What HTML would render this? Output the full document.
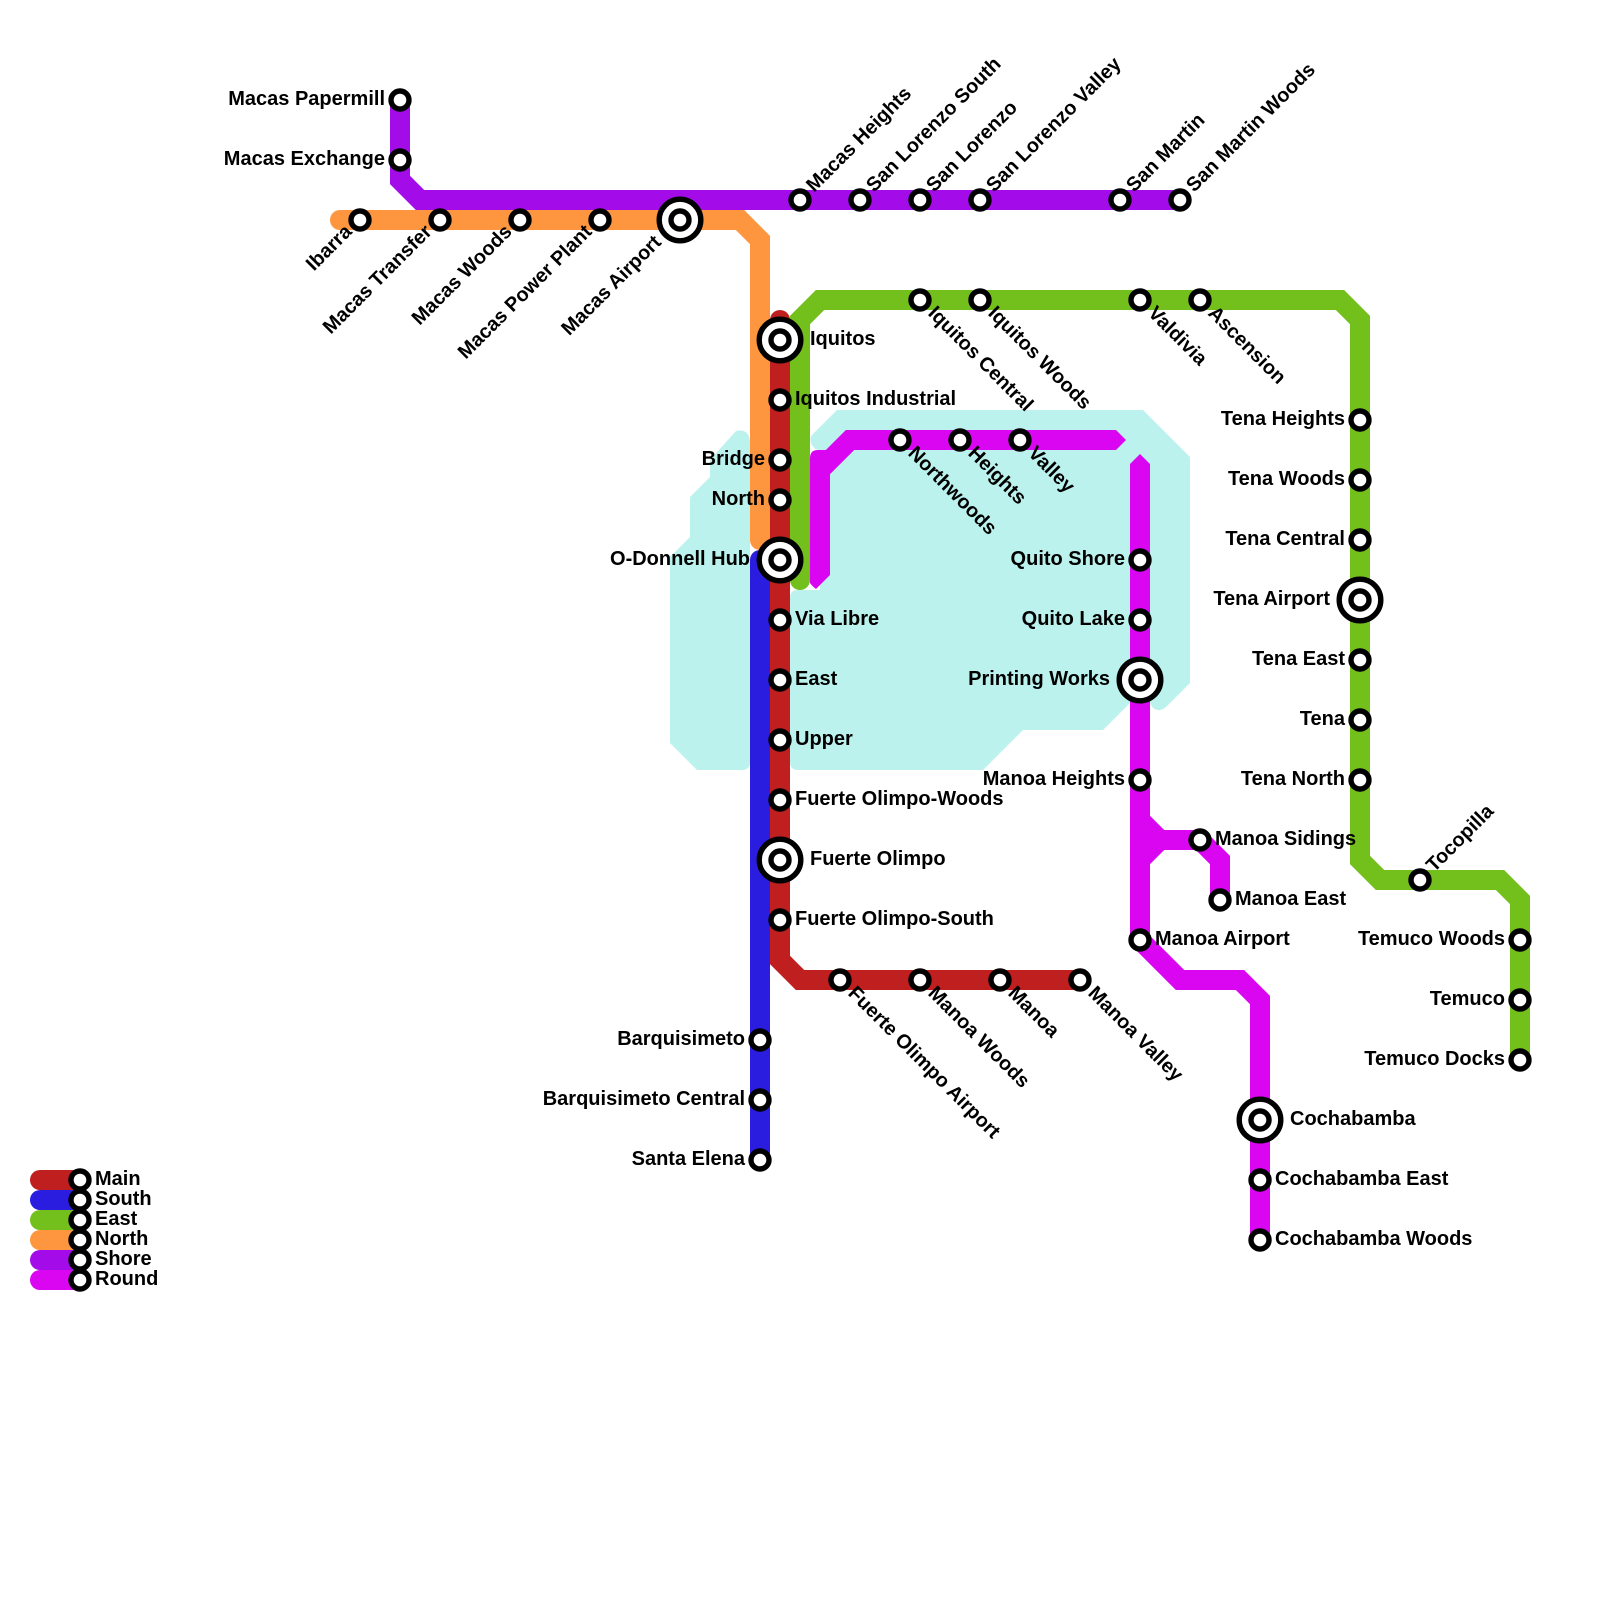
<!DOCTYPE html>
<html><head><meta charset="utf-8"><style>
html,body{margin:0;padding:0;background:#fff}
svg{display:block}
text{font-family:"Liberation Sans",sans-serif;font-weight:700;font-size:20px;fill:#000}
text[transform]{font-size:19.85px}
.e{text-anchor:end}
.l{fill:none;stroke-width:20;stroke-linejoin:miter;stroke-linecap:round}
.b{fill:none;stroke-width:20;stroke-linejoin:miter;stroke-linecap:butt}
.s{fill:#fff;stroke:#000;stroke-width:5.4}
</style></head><body>
<svg width="1600" height="1600" viewBox="0 0 1600 1600" xmlns="http://www.w3.org/2000/svg">
<!-- water -->
<path fill="#bcf2ee" d="M750,442 Q749,428 736,431 L710,460 V477 L690,497 V537 L670,557 V743 L697,770 H742 Q750,770 750,762 Z"/>
<path fill="#bcf2ee" d="M837,410 H1143 L1190,457 V683 L1167,706 Q1160,713 1153,708 L1150,703 H1130 L1103,730 H1023 L983,770 H798 Q790,770 790,762 V598 Q790,590 798,590 H820 V450 Q814,450 811,443 Q809,438 813,434 Z"/>
<!-- lines -->
<path class="l" stroke="#bf1f1f" d="M780,320 V960 L800,980 H1080"/>
<path class="l" stroke="#2a1de0" d="M760,560 V1160"/>
<path class="l" stroke="#73bf1c" d="M800,580 V320 L820,300 H1340 L1360,320 V860 L1380,880 H1500 L1520,900 V1060"/>
<path class="l" stroke="#fd963f" d="M340,220 H740 L760,240 V540"/>
<path class="l" stroke="#a30ce8" d="M400,100 V180 L420,200 H1180"/>
<!-- round -->
<path class="b" stroke="#da06f2" d="M820,575 V470 L850,440 H1116"/>
<path d="M810,470 V458 Q810,450 818,450 H826 L830,470 Z" fill="#da06f2"/>
<path d="M810,570 V583 Q812,586 816,589 L830,575 V570 Z" fill="#da06f2"/>
<polygon fill="#da06f2" points="1116,430 1126,440 1116,450"/>
<polygon fill="#da06f2" points="1130,464 1140,454 1150,464"/>
<path class="b" stroke="#da06f2" d="M1140,464 V940 L1180,980 H1240 L1260,1000 V1240"/>
<circle cx="1260" cy="1240" r="10" fill="#da06f2"/>
<path class="b" stroke="#da06f2" d="M1140,820 L1160,840 H1200 L1220,860 V900"/>
<path class="b" stroke="#da06f2" d="M1140,860 L1160,840"/>
<!-- legend -->
<path class="l" stroke="#bf1f1f" d="M40,1180 H80"/>
<path class="l" stroke="#2a1de0" d="M40,1200 H80"/>
<path class="l" stroke="#73bf1c" d="M40,1220 H80"/>
<path class="l" stroke="#fd963f" d="M40,1240 H80"/>
<path class="l" stroke="#a30ce8" d="M40,1260 H80"/>
<path class="l" stroke="#da06f2" d="M40,1280 H80"/>
<g class="s">
<circle cx="80" cy="1180" r="9"/><circle cx="80" cy="1200" r="9"/><circle cx="80" cy="1220" r="9"/><circle cx="80" cy="1240" r="9"/><circle cx="80" cy="1260" r="9"/><circle cx="80" cy="1280" r="9"/>
<circle cx="400" cy="100" r="9"/><circle cx="400" cy="160" r="9"/>
<circle cx="360" cy="220" r="9"/><circle cx="440" cy="220" r="9"/><circle cx="520" cy="220" r="9"/><circle cx="600" cy="220" r="9"/>
<circle cx="800" cy="200" r="9"/><circle cx="860" cy="200" r="9"/><circle cx="920" cy="200" r="9"/><circle cx="980" cy="200" r="9"/><circle cx="1120" cy="200" r="9"/><circle cx="1180" cy="200" r="9"/>
<circle cx="920" cy="300" r="9"/><circle cx="980" cy="300" r="9"/><circle cx="1140" cy="300" r="9"/><circle cx="1200" cy="300" r="9"/>
<circle cx="1360" cy="420" r="9"/><circle cx="1360" cy="480" r="9"/><circle cx="1360" cy="540" r="9"/><circle cx="1360" cy="660" r="9"/><circle cx="1360" cy="720" r="9"/><circle cx="1360" cy="780" r="9"/>
<circle cx="1420" cy="880" r="9"/><circle cx="1520" cy="940" r="9"/><circle cx="1520" cy="1000" r="9"/><circle cx="1520" cy="1060" r="9"/>
<circle cx="780" cy="400" r="9"/><circle cx="780" cy="460" r="9"/><circle cx="780" cy="500" r="9"/><circle cx="780" cy="620" r="9"/><circle cx="780" cy="680" r="9"/><circle cx="780" cy="740" r="9"/><circle cx="780" cy="800" r="9"/><circle cx="780" cy="920" r="9"/>
<circle cx="840" cy="980" r="9"/><circle cx="920" cy="980" r="9"/><circle cx="1000" cy="980" r="9"/><circle cx="1080" cy="980" r="9"/>
<circle cx="760" cy="1040" r="9"/><circle cx="760" cy="1100" r="9"/><circle cx="760" cy="1160" r="9"/>
<circle cx="900" cy="440" r="9"/><circle cx="960" cy="440" r="9"/><circle cx="1020" cy="440" r="9"/>
<circle cx="1140" cy="560" r="9"/><circle cx="1140" cy="620" r="9"/><circle cx="1140" cy="780" r="9"/><circle cx="1140" cy="940" r="9"/>
<circle cx="1200" cy="840" r="9"/><circle cx="1220" cy="900" r="9"/><circle cx="1260" cy="1180" r="9"/><circle cx="1260" cy="1240" r="9"/>
<circle cx="680" cy="220" r="20.8"/><circle cx="680" cy="220" r="9"/>
<circle cx="780" cy="340" r="20.8"/><circle cx="780" cy="340" r="9"/>
<circle cx="780" cy="560" r="20.8"/><circle cx="780" cy="560" r="9"/>
<circle cx="780" cy="860" r="20.8"/><circle cx="780" cy="860" r="9"/>
<circle cx="1140" cy="680" r="20.8"/><circle cx="1140" cy="680" r="9"/>
<circle cx="1260" cy="1120" r="20.8"/><circle cx="1260" cy="1120" r="9"/>
<circle cx="1360" cy="600" r="20.8"/><circle cx="1360" cy="600" r="9"/>
</g>
<!-- legend text -->
<text x="95" y="1185">Main</text><text x="95" y="1205">South</text><text x="95" y="1225">East</text><text x="95" y="1245">North</text><text x="95" y="1265">Shore</text><text x="95" y="1285">Round</text>
<!-- left labels -->
<text class="e" x="385" y="105">Macas Papermill</text>
<text class="e" x="385" y="165">Macas Exchange</text>
<text class="e" x="765" y="465">Bridge</text>
<text class="e" x="765" y="505">North</text>
<text class="e" x="750" y="565">O-Donnell Hub</text>
<text class="e" x="745" y="1045">Barquisimeto</text>
<text class="e" x="745" y="1105">Barquisimeto Central</text>
<text class="e" x="745" y="1165">Santa Elena</text>
<text class="e" x="1125" y="565">Quito Shore</text>
<text class="e" x="1125" y="625">Quito Lake</text>
<text class="e" x="1110" y="685">Printing Works</text>
<text class="e" x="1125" y="785">Manoa Heights</text>
<text class="e" x="1345" y="425">Tena Heights</text>
<text class="e" x="1345" y="485">Tena Woods</text>
<text class="e" x="1345" y="545">Tena Central</text>
<text class="e" x="1330" y="605">Tena Airport</text>
<text class="e" x="1345" y="665">Tena East</text>
<text class="e" x="1345" y="725">Tena</text>
<text class="e" x="1345" y="785">Tena North</text>
<text class="e" x="1505" y="945">Temuco Woods</text>
<text class="e" x="1505" y="1005">Temuco</text>
<text class="e" x="1505" y="1065">Temuco Docks</text>
<!-- right labels -->
<text x="810" y="345">Iquitos</text>
<text x="795" y="405">Iquitos Industrial</text>
<text x="795" y="625">Via Libre</text>
<text x="795" y="685">East</text>
<text x="795" y="745">Upper</text>
<text x="795" y="805">Fuerte Olimpo-Woods</text>
<text x="810" y="865">Fuerte Olimpo</text>
<text x="795" y="925">Fuerte Olimpo-South</text>
<text x="1215" y="845">Manoa Sidings</text>
<text x="1235" y="905">Manoa East</text>
<text x="1155" y="945">Manoa Airport</text>
<text x="1290" y="1125">Cochabamba</text>
<text x="1275" y="1185">Cochabamba East</text>
<text x="1275" y="1245">Cochabamba Woods</text>
<!-- rotated up-right -->
<text transform="translate(800 200) rotate(-45)" x="15" y="5">Macas Heights</text>
<text transform="translate(860 200) rotate(-45)" x="15" y="5">San Lorenzo South</text>
<text transform="translate(920 200) rotate(-45)" x="15" y="5">San Lorenzo</text>
<text transform="translate(980 200) rotate(-45)" x="15" y="5">San Lorenzo Valley</text>
<text transform="translate(1120 200) rotate(-45)" x="15" y="5">San Martin</text>
<text transform="translate(1180 200) rotate(-45)" x="15" y="5">San Martin Woods</text>
<text transform="translate(1420 880) rotate(-45)" x="15" y="5">Tocopilla</text>
<!-- rotated down-right -->
<text transform="translate(920 300) rotate(45)" x="15" y="5">Iquitos Central</text>
<text transform="translate(980 300) rotate(45)" x="15" y="5">Iquitos Woods</text>
<text transform="translate(1140 300) rotate(45)" x="15" y="5">Valdivia</text>
<text transform="translate(1200 300) rotate(45)" x="15" y="5">Ascension</text>
<text transform="translate(900 440) rotate(45)" x="15" y="5">Northwoods</text>
<text transform="translate(960 440) rotate(45)" x="15" y="5">Heights</text>
<text transform="translate(1020 440) rotate(45)" x="15" y="5">Valley</text>
<text transform="translate(840 980) rotate(45)" x="15" y="5">Fuerte Olimpo Airport</text>
<text transform="translate(920 980) rotate(45)" x="15" y="5">Manoa Woods</text>
<text transform="translate(1000 980) rotate(45)" x="15" y="5">Manoa</text>
<text transform="translate(1080 980) rotate(45)" x="15" y="5">Manoa Valley</text>
<!-- rotated down-left -->
<text class="e" transform="translate(360 220) rotate(-45)" x="-14" y="4">Ibarra</text>
<text class="e" transform="translate(440 220) rotate(-45)" x="-14" y="4">Macas Transfer</text>
<text class="e" transform="translate(520 220) rotate(-45)" x="-14" y="4">Macas Woods</text>
<text class="e" transform="translate(600 220) rotate(-45)" x="-14" y="4">Macas Power Plant</text>
<text class="e" transform="translate(680 220) rotate(-45)" x="-29" y="4">Macas Airport</text>
</svg>
</body></html>
